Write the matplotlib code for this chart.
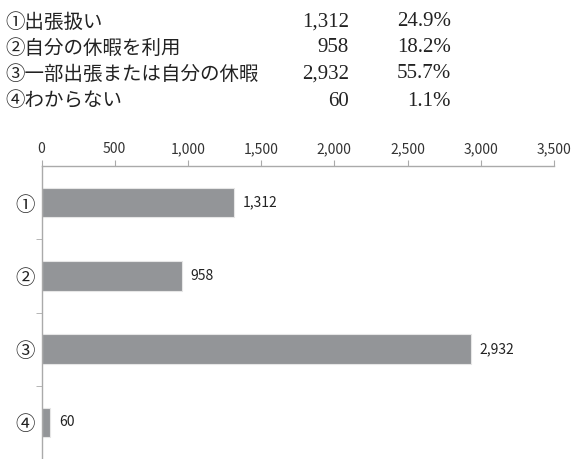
import matplotlib
matplotlib.use('Agg')
import matplotlib.pyplot as plt
from matplotlib.ticker import FuncFormatter, FixedLocator

plt.rcParams['font.family'] = ['Noto Sans CJK JP', 'DejaVu Sans']

labels = ['①出張扱い', '②自分の休暇を利用', '③一部出張または自分の休暇', '④わからない']
marks = ['①', '②', '③', '④']
counts = [1312, 958, 2932, 60]
shares = [24.9, 18.2, 55.7, 1.1]

W, H = 577, 459
fig = plt.figure(figsize=(W / 100, H / 100), dpi=100)

# table of answers above the chart
row_y = [22, 48, 74, 101]
for lab, n, p, y in zip(labels, counts, shares, row_y):
    fy = 1 - y / H
    fig.text(5 / W, fy, lab, fontsize=14, va='center', ha='left', color='#222222')
    fig.text(349 / W, fy, f'{n:,}', fontsize=15, va='center', ha='right', color='#222222',
             family='Liberation Serif')
    fig.text(451 / W, fy, f'{p:.1f}%', fontsize=15, va='center', ha='right', color='#222222',
             family='Liberation Serif')

# bar chart
left, right, top, bottom = 41.5, 554, 166, 459
ax = fig.add_axes([left / W, 1 - bottom / H, (right - left) / W, (bottom - top) / H])
pos = list(range(len(counts)))
ax.barh(pos, counts, height=0.4, color='#939598', edgecolor='#e6e6e6', linewidth=0.8)
ax.set_xlim(0, 3500)
ax.set_ylim(3.5, -0.5)

for y, n in zip(pos, counts):
    ax.text(n + 60, y, f'{n:,}', va='center', ha='left', fontsize=10, color='#222222')

ax.xaxis.tick_top()
ax.set_xticks(range(0, 3501, 500))
ax.xaxis.set_major_formatter(FuncFormatter(lambda v, _: f'{int(v):,}'))
ax.tick_params(axis='x', direction='out', length=4, color='#aaaaaa', labelsize=10,
               labelcolor='#333333', pad=3)

ax.set_yticks(pos)
ax.set_yticklabels(marks, fontsize=14, color='#222222')
ax.tick_params(axis='y', which='major', length=0, pad=5)
ax.yaxis.set_minor_locator(FixedLocator([0.5, 1.5, 2.5]))
ax.tick_params(axis='y', which='minor', direction='out', length=4, color='#aaaaaa')

for s in ['right', 'bottom']:
    ax.spines[s].set_visible(False)
for s in ['left', 'top']:
    ax.spines[s].set_color('#aaaaaa')
    ax.spines[s].set_linewidth(1)

fig.savefig('out.png', dpi=100)
